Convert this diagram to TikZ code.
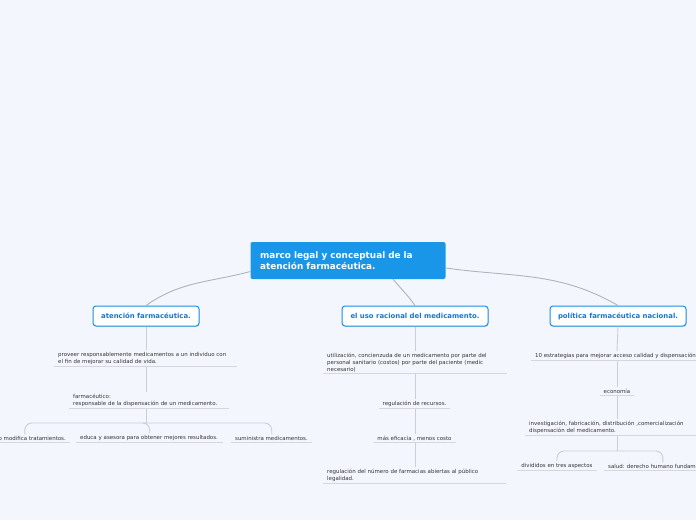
\documentclass[tikz,border=0pt]{standalone}
\usepackage{fontspec}
\setmainfont{DejaVu Sans}
\usetikzlibrary{shadows}
\definecolor{bg}{HTML}{F3F6FD}
\definecolor{rootblue}{HTML}{1A96E8}
\definecolor{topicblue}{HTML}{1A8FE3}
\definecolor{topictext}{HTML}{1477D0}
\definecolor{txt}{HTML}{333333}
\definecolor{uline}{HTML}{D3D7DF}
\definecolor{conn}{HTML}{C9CED7}
\definecolor{rconn}{HTML}{AEB3BC}
\tikzset{
  rootbox/.style={fill=rootblue, rounded corners=2pt, text=white, font=\fontsize{8.9}{11}\selectfont\bfseries, align=left, text width=176pt, inner xsep=9.5pt, minimum height=37pt},
  topicbox/.style={draw=topicblue, line width=1pt, fill=white, rounded corners=3pt, text=topictext, font=\fontsize{6.9}{8}\selectfont\bfseries, minimum height=20pt, drop shadow={shadow xshift=0.6pt, shadow yshift=-1pt, fill=black!25}},
  sub/.style={font=\fontsize{5.45}{7}\selectfont, text=txt, inner xsep=4pt, inner ysep=2pt, path picture={\draw[uline, line width=1.3pt] (path picture bounding box.south west) -- (path picture bounding box.south east);}},
  cl/.style={draw=conn, line width=0.9pt},
  rl/.style={draw=rconn, line width=0.9pt},
}
\begin{document}
\begin{tikzpicture}[x=1pt,y=-1pt]
\fill[bg] (0,0) rectangle (696,520);
\useasboundingbox (0,0) rectangle (696,520);

\node[rootbox] (root) at (348,260.5) {marco legal y conceptual de la\\atención farmacéutica.};

\node[topicbox, minimum width=106pt] (t1) at (146,316) {atención farmacéutica.};
\node[topicbox, minimum width=146pt] (t2) at (415,316) {el uso racional del medicamento.};
\node[topicbox, minimum width=136pt] (t3) at (618,316) {política farmacéutica nacional.};

\draw[rl] ([yshift=-11pt]root.west) to[out=195,in=35] (t1.north);
\draw[rl] ([xshift=45pt]root.south) to[out=-50,in=125] (t2.north);
\draw[rl] ([yshift=-7.5pt]root.east) to[out=-8,in=150] (t3.north);

% left branch
\node[sub, anchor=south west, text width=175pt, align=left] (L1) at (54,367) {proveer responsablemente medicamentos a un individuo con\\el fin de mejorar su calidad de vida.};
\node[sub, anchor=south west, text width=152pt, align=left] (L2) at (69,409) {farmacéutico:\\responsable de la dispensación de un medicamento.};
\node[sub, anchor=south east, text width=82pt, align=right] (L3a) at (70,443) {o modifica tratamientos.};
\node[sub, anchor=south west, text width=139pt, align=left] (L3b) at (76,443) {educa y asesora para obtener mejores resultados.};
\node[sub, anchor=south west, text width=73pt, align=left] (L3c) at (231,443) {suministra medicamentos.};

\draw[cl] (t1.south) -- (t1.south |- L1.north);
\draw[cl] (t1.south |- L1.south) -- (t1.south |- L2.north);
\coordinate (lb) at ([yshift=-14pt]t1.south |- L2.south);
\draw[cl] (t1.south |- L2.south) -- (lb);
\draw[cl, rounded corners=7pt] (lb) -| (L3a.north);
\draw[cl, rounded corners=7pt] (lb) -| (L3b.north);
\draw[cl, rounded corners=7pt] (lb) -| (L3c.north);

% middle branch
\node[sub, anchor=south west, text width=176pt, align=left] (M1) at (323,374) {utilización, concienzuda de un medicamento por parte del\\personal sanitario (costos) por parte del paciente (medic\\necesario)};
\node[sub, anchor=south, align=center] (M2) at (414.5,409) {regulación de recursos.};
\node[sub, anchor=south, align=center] (M3) at (414.5,443) {más eficacia , menos costo};
\node[sub, anchor=south west, text width=175pt, align=left] (M4) at (323,484) {regulación del número de farmacias abiertas al público\\legalidad.};

\draw[cl] (t2.south) -- (t2.south |- M1.north);
\draw[cl] (t2.south |- M1.south) -- (t2.south |- M2.north);
\draw[cl] (t2.south |- M2.south) -- (t2.south |- M3.north);
\draw[cl] (t2.south |- M3.south) -- (t2.south |- M4.north);

% right branch
\node[sub, anchor=south west, align=left] (R1) at (531,361) {10 estrategias para mejorar acceso calidad y dispensación};
\node[sub, anchor=south, align=center] (R2) at (617,396) {economía};
\node[sub, anchor=south west, text width=172pt, align=left] (R3) at (525,436) {investigación, fabricación, distribución ,comercialización\\dispensación del medicamento.};
\node[sub, anchor=south, align=left] (R4a) at (557,471) {divididos en tres aspectos};
\node[sub, anchor=south west, align=left] (R4b) at (604,471) {salud: derecho humano fundamental};

\draw[cl] (t3.south) -- ([xshift=-1pt]t3.south |- R1.north);
\draw[cl] ([xshift=-1pt]t3.south |- R1.south) -- (R2.north);
\draw[cl] (R2.south) -- (R2.south |- R3.north);
\coordinate (rb) at ([yshift=-15pt]R2.south |- R3.south);
\draw[cl] (R2.south |- R3.south) -- (rb);
\draw[cl, rounded corners=7pt] (rb) -| (R4a.north);
\draw[cl, rounded corners=7pt] (rb) -| ([xshift=4pt]R4b.north);
\end{tikzpicture}
\end{document}
